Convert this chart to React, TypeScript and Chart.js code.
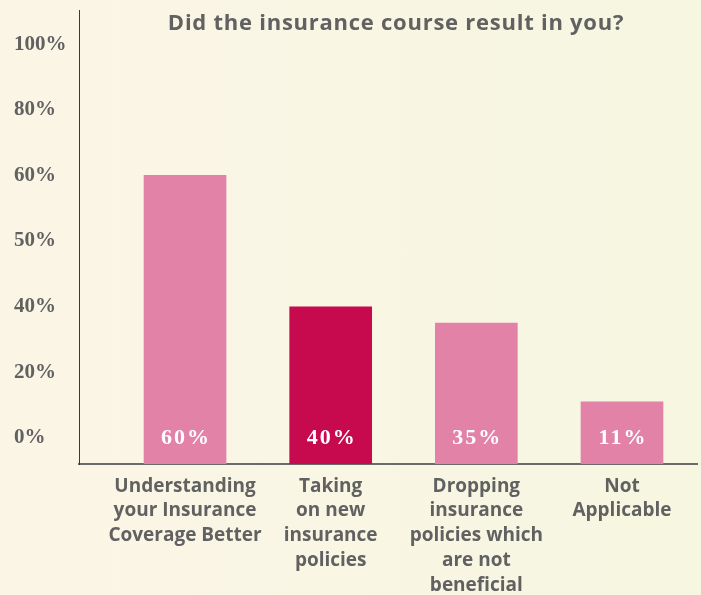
import React, { useEffect, useRef } from "react";
import { Chart, registerables } from "chart.js";

Chart.register(...registerables);

const TITLE = "Did the insurance course result in you?";
const CATEGORIES: string[][] = [
  ["Understanding", "your Insurance", "Coverage Better"],
  ["Taking", "on new", "insurance", "policies"],
  ["Dropping", "insurance", "policies which", "are not", "beneficial"],
  ["Not", "Applicable"],
];
const VALUES = [60, 40, 35, 11];
const BAR_COLORS = ["#E282A6", "#C70A4D", "#E282A6", "#E282A6"];
const TICK_VALUES = [0, 20, 40, 50, 60, 80, 100];

// The original axis places its tick labels at even spacing, so a percentage
// is located between the two tick labels that enclose it.
function toAxis(v: number): number {
  for (let i = 0; i < TICK_VALUES.length - 1; i++) {
    const a = TICK_VALUES[i];
    const b = TICK_VALUES[i + 1];
    if (v >= a && v <= b) return i + (v - a) / (b - a);
  }
  return TICK_VALUES.length - 1;
}

const Y_MIN = -0.396;
const Y_MAX = 6.52;
const X_MIN = -0.728;
const X_MAX = 3.515;

const GREY = "#616161";

const valueLabels = {
  id: "valueLabels",
  afterDatasetsDraw(chart: any) {
    const ctx = chart.ctx;
    const meta = chart.getDatasetMeta(0);
    const y = chart.scales.y.getPixelForValue(0);
    ctx.save();
    ctx.fillStyle = "#ffffff";
    ctx.font = "bold 22px 'Liberation Serif'";
    (ctx as any).letterSpacing = "2px";
    ctx.textAlign = "center";
    ctx.textBaseline = "middle";
    meta.data.forEach((bar: any, i: number) => {
      ctx.fillText(VALUES[i] + "%", bar.x + 1, y);
    });
    ctx.restore();
  },
};

const titlePlugin = {
  id: "innerTitle",
  afterDraw(chart: any) {
    const { ctx, chartArea } = chart;
    ctx.save();
    ctx.fillStyle = GREY;
    ctx.font = "bold 22px 'Open Sans'";
    (ctx as any).letterSpacing = "0.75px";
    ctx.textAlign = "center";
    ctx.textBaseline = "middle";
    ctx.fillText(TITLE, (chartArea.left + chartArea.right) / 2 + 8, chartArea.top + 14);
    ctx.restore();
  },
};

export default function App() {
  const ref = useRef<HTMLCanvasElement | null>(null);

  useEffect(() => {
    document.body.style.margin = "0";
    const canvas = ref.current;
    if (!canvas) return;
    const chart = new Chart(canvas, {
      type: "bar",
      data: {
        datasets: [
          {
            data: VALUES.map((v, i) => ({ x: i, y: toAxis(v) })),
            backgroundColor: BAR_COLORS,
            borderWidth: 0,
            barThickness: 82,
            base: Y_MIN,
          } as any,
        ],
      },
      options: {
        responsive: false,
        animation: false,
        layout: { padding: { left: 14, right: 4, top: 10, bottom: 0 } },
        plugins: {
          legend: { display: false },
          title: { display: false },
          tooltip: { enabled: false },
        },
        scales: {
          x: {
            type: "linear",
            offset: false,
            min: X_MIN,
            max: X_MAX,
            grid: { display: false, drawTicks: false, offset: false },
            border: { display: true, color: "#6a6a6a", width: 2 },
            afterBuildTicks: (scale: any) => {
              scale.ticks = CATEGORIES.map((_, i) => ({ value: i }));
            },
            afterFit: (scale: any) => {
              scale.height = 131;
              scale.paddingLeft = 0;
              scale.paddingRight = 0;
            },
            ticks: {
              autoSkip: false,
              maxRotation: 0,
              padding: 10,
              color: GREY,
              font: { family: "'Open Sans'", weight: "bold", size: 19, lineHeight: 1.3 },
              callback: (v: any) => CATEGORIES[v as number] ?? "",
            },
          },
          y: {
            type: "linear",
            min: Y_MIN,
            max: Y_MAX,
            grid: { display: false, drawTicks: false },
            border: { display: true, color: "#3a3a3a", width: 1 },
            afterBuildTicks: (scale: any) => {
              scale.ticks = TICK_VALUES.map((_, i) => ({ value: i }));
            },
            afterFit: (scale: any) => {
              scale.width = 65;
              scale.paddingTop = 0;
              scale.paddingBottom = 0;
            },
            ticks: {
              crossAlign: "far",
              padding: 10,
              color: GREY,
              font: { family: "'Liberation Serif'", weight: "bold", size: 21 },
              callback: (v: any) => TICK_VALUES[v as number] + "%",
            },
          },
        },
      },
      plugins: [valueLabels, titlePlugin],
    } as any);
    return () => chart.destroy();
  }, []);

  return (
    <div
      style={{
        position: "fixed",
        left: 0,
        top: 0,
        width: 701,
        height: 595,
        background: "linear-gradient(90deg, #FBF5E6 0%, #F9F6E4 50%, #F6F6E1 100%)",
      }}
    >
      <canvas ref={ref} width={701} height={595} style={{ display: "block" }} />
    </div>
  );
}
